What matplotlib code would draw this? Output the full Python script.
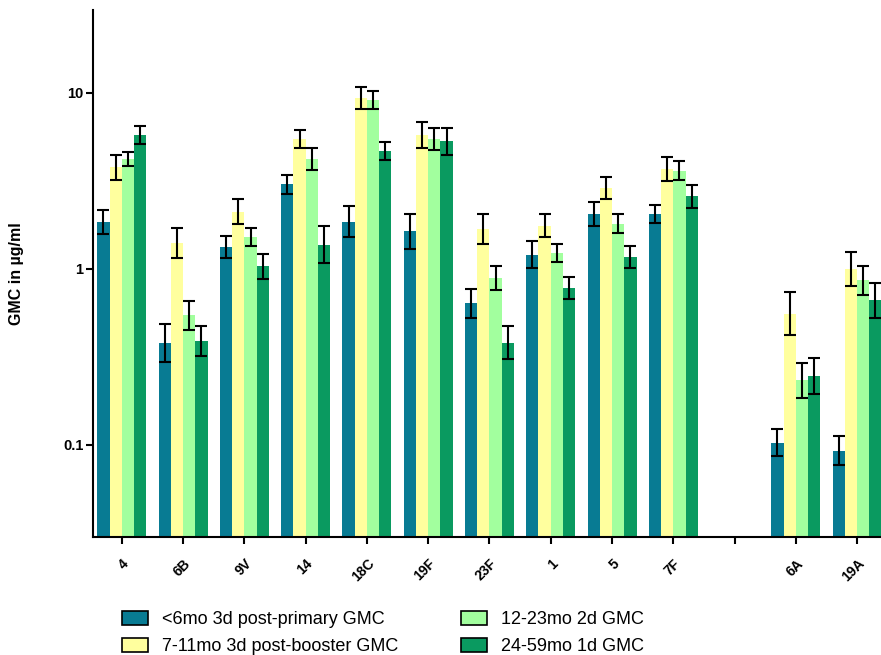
import matplotlib.pyplot as plt
import numpy as np

# serotypes (empty slot between 7F and 6A)
serotypes = ["4", "6B", "9V", "14", "18C", "19F", "23F", "1", "5", "7F", "", "6A", "19A"]

series_labels = [
    "<6mo 3d post-primary GMC",
    "7-11mo 3d post-booster GMC",
    "12-23mo 2d GMC",
    "24-59mo 1d GMC",
]

# GMC values (NaN for the empty slot)
gmc_lt6 = [1.85, 0.38, 1.33, 3.02, 1.85, 1.63, 0.636, 1.20, 2.05, 2.05, np.nan, 0.103, 0.093]
gmc_7_11 = [3.77, 1.40, 2.11, 5.45, 9.3, 5.74, 1.68, 1.76, 2.87, 3.68, np.nan, 0.556, 1.00]
gmc_12_23 = [4.2, 0.544, 1.51, 4.2, 9.07, 5.45, 0.886, 1.23, 1.80, 3.61, np.nan, 0.233, 0.859]
gmc_24_59 = [5.74, 0.389, 1.035, 1.37, 4.66, 5.29, 0.381, 0.778, 1.17, 2.58, np.nan, 0.247, 0.661]

# upper end of each error bar
hi_lt6 = [2.16, 0.486, 1.53, 3.41, 2.26, 2.04, 0.77, 1.43, 2.39, 2.31, np.nan, 0.123, 0.113]
hi_7_11 = [4.43, 1.70, 2.49, 6.13, 10.7, 6.78, 2.04, 2.04, 3.31, 4.29, np.nan, 0.737, 1.25]
hi_12_23 = [4.6, 0.659, 1.70, 4.85, 10.2, 6.29, 1.04, 1.39, 2.04, 4.07, np.nan, 0.292, 1.04]
hi_24_59 = [6.45, 0.473, 1.22, 1.74, 5.22, 6.29, 0.473, 0.897, 1.35, 2.99, np.nan, 0.313, 0.833]

colors = ["#087b93", "#ffff9e", "#a2ff9e", "#0a9a60"]

plt.rcParams["font.family"] = ["Liberation Sans", "DejaVu Sans"]

fig = plt.figure(figsize=(8.81, 6.55), dpi=100)
ax = fig.add_axes([0.1056, 0.180, 0.8944, 0.805])

x = np.arange(len(serotypes))
width = 0.2
all_vals = [gmc_lt6, gmc_7_11, gmc_12_23, gmc_24_59]
all_hi = [hi_lt6, hi_7_11, hi_12_23, hi_24_59]

for i, (vals, hi) in enumerate(zip(all_vals, all_hi)):
    vals = np.array(vals, dtype=float)
    hi = np.array(hi, dtype=float)
    lo = vals * vals / hi  # symmetric on the log scale
    pos = x + (i - 1.5) * width
    ax.bar(pos, vals, width=width, color=colors[i], label=series_labels[i],
           edgecolor="black", linewidth=0)
    ax.errorbar(pos, vals, yerr=[vals - lo, hi - vals], fmt="none",
                ecolor="black", elinewidth=1.5, capsize=4, capthick=1.5)

ax.set_yscale("log")
ax.set_ylim(0.03, 29.5)
ax.set_xlim(-0.47, 12.39)
ax.set_yticks([0.1, 1, 10])
ax.set_yticklabels(["0.1", "1", "10"], fontweight="bold", fontsize=10.5)
ax.yaxis.set_minor_locator(plt.NullLocator())
ax.set_xticks(x)
ax.set_xticklabels(serotypes, rotation=45, ha="right", rotation_mode="anchor",
                   fontweight="bold", fontsize=10)
ax.tick_params(axis="y", width=1.5, length=5, pad=2)
ax.tick_params(axis="x", width=1.5, length=5, pad=9)
ax.set_ylabel("GMC in µg/ml", fontweight="bold", fontsize=11.5)
ax.yaxis.set_label_coords(-0.087, 0.5)

for side in ["top", "right"]:
    ax.spines[side].set_visible(False)
for side in ["left", "bottom"]:
    ax.spines[side].set_linewidth(1.5)

handles, labels = ax.get_legend_handles_labels()
leg = fig.legend(handles, labels, ncol=2, loc="lower left",
                 bbox_to_anchor=(0.1385, 0.0), borderaxespad=0, borderpad=0,
                 frameon=False, fontsize=13, handlelength=1.45, handleheight=0.8,
                 handletextpad=0.75, columnspacing=3.5, labelspacing=0.55)
for patch in leg.get_patches():
    patch.set_edgecolor("black")
    patch.set_linewidth(1.2)

plt.savefig("out.png", dpi=100)
plt.close()
